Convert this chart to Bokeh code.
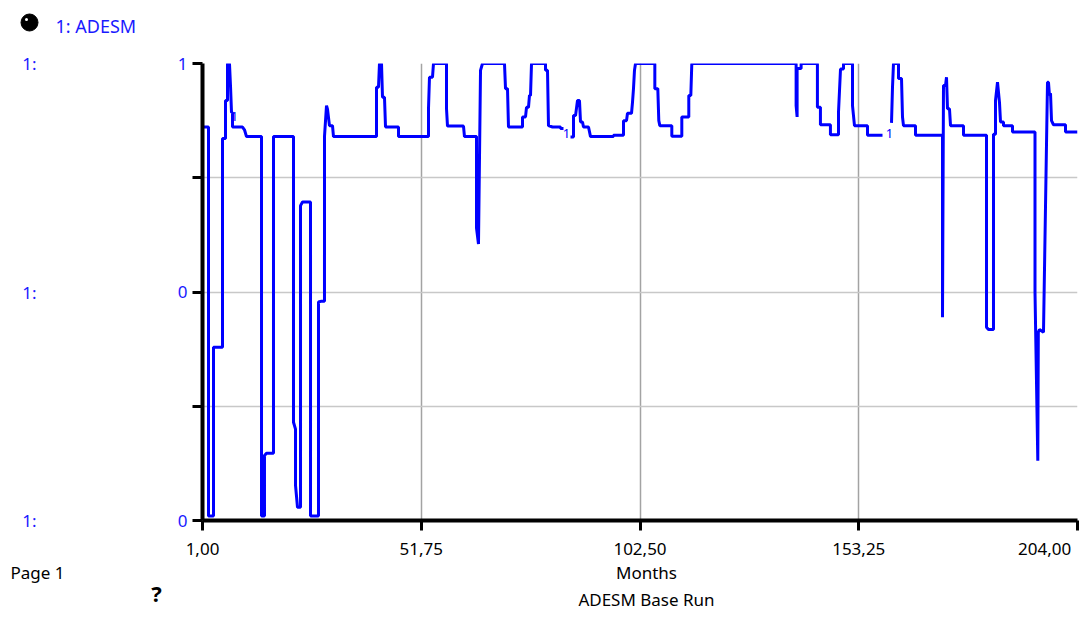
from bokeh.plotting import figure
from bokeh.models import FixedTicker, Range1d, LinearAxis
from bokeh.layouts import column
from bokeh.core.properties import value
from bokeh.embed import file_html
from bokeh.resources import INLINE

NAN = float("nan")

# ---- data ----
months = [1.00, 2.39, 2.39, 3.55, 3.55, 5.64, 5.64, 6.34, 6.34, 6.80, 6.80, 7.26, 7.50, 7.73, 7.96, 7.96,
          10.28, 10.74, 11.21, 14.69, 14.69, 15.38, 15.38, 15.85, 17.47, 17.47, 22.11, 22.11, 22.58, 22.58,
          23.04, 23.74, 23.74, 24.20, 26.06, 26.06, 27.91, 27.91, 28.61, 29.30, 29.30, 29.77, 30.00, 30.46,
          31.16, 31.39, 41.37, 41.37, 41.83, 42.06, 42.53, 42.76, 43.22, 43.46, 46.47, 46.47, 53.43, 53.43,
          53.66, 54.36, 54.59, 57.61, 57.61, 57.84, 61.55, 61.78, 64.57, 64.57, 65.03, 65.50, 65.96, 71.06,
          71.30, 71.76, 71.99, 75.24, 75.24, 75.94, 76.17, 76.63, 76.86, 77.10, 77.33, 80.58, 80.58, 81.04,
          81.27, 82.20, 84.06, 84.06, 84.75, 85.50, 86.38, 87.07, 87.07, 87.54, 88.00, 88.46, 88.70, 89.16,
          89.39, 90.55, 91.02, 96.35, 96.35, 98.67, 98.67, 99.37, 99.60, 100.53, 100.76, 100.99, 101.22,
          101.46, 105.94, 105.94, 106.63, 106.86, 107.10, 109.88, 109.88, 112.20, 112.20, 113.82, 113.82,
          114.29, 114.52, 138.72, 138.72, 138.95, 138.95, 139.88, 139.88, 143.66, 143.66, 144.36, 144.36,
          146.68, 146.68, 148.55, 148.55, 149.02, 149.71, 149.71, 151.80, 151.80, 152.26, 155.28, 155.28,
          158.76, 159.80, 160.85, 161.08, 161.31, 162.47, 162.47, 163.17, 163.40, 163.63, 166.42, 166.42,
          172.68, 172.68, 172.91, 173.38, 173.61, 173.84, 174.30, 174.54, 177.55, 177.55, 182.89, 182.89,
          183.35, 184.51, 184.51, 184.98, 184.98, 185.44, 185.90, 186.14, 186.83, 186.83, 188.92, 188.92,
          194.14, 194.14, 194.79, 194.91, 195.18, 196.11, 197.04, 197.27, 197.50, 197.74, 197.97, 198.43,
          201.22, 201.22, 204.00]
adesm = [0.861, 0.861, 0.01, 0.01, 0.379, 0.379, 0.836, 0.836, 0.919, 0.919, 1.0, 1.0, 0.95, 0.893, 0.893, 0.861,
         0.861, 0.855, 0.840, 0.840, 0.01, 0.01, 0.142, 0.147, 0.147, 0.840, 0.840, 0.215, 0.20, 0.077,
         0.029, 0.029, 0.689, 0.697, 0.697, 0.01, 0.01, 0.478, 0.48, 0.48, 0.840, 0.908, 0.90, 0.864,
         0.864, 0.840, 0.840, 0.948, 0.948, 1.0, 1.0, 0.926, 0.926, 0.861, 0.861, 0.840, 0.840, 0.901,
         0.970, 0.970, 1.0, 1.0, 0.901, 0.863, 0.863, 0.840, 0.840, 0.64, 0.605, 0.985, 1.0, 1.0,
         0.945, 0.945, 0.861, 0.861, 0.883, 0.883, 0.904, 0.904, 0.930, 0.930, 1.0, 1.0, 0.985, 0.985,
         0.864, 0.861, 0.861, 0.858, 0.858, NAN, 0.839, 0.839, 0.886, 0.886, 0.919, 0.919, 0.872, 0.872,
         0.861, 0.861, 0.840, 0.840, 0.843, 0.843, 0.875, 0.875, 0.891, 0.891, 0.915, 0.945, 0.985,
         1.0, 1.0, 0.945, 0.945, 0.875, 0.864, 0.864, 0.841, 0.841, 0.883, 0.883, 0.930,
         0.930, 1.0, 1.0, 0.908, 0.883, 0.989, 0.989, 1.0, 1.0, 0.904, 0.904, 0.866,
         0.866, 0.844, 0.844, 0.893, 0.988, 0.988, 1.0, 1.0, 0.908, 0.864, 0.864, 0.843,
         0.843, NAN, 0.87, 0.948, 1.0, 1.0, 0.967, 0.967, 0.883, 0.864, 0.864, 0.843,
         0.843, 0.445, 0.952, 0.952, 0.970, 0.901, 0.901, 0.864, 0.864, 0.843, 0.843, 0.423,
         0.418, 0.418, 0.845, 0.845, 0.919, 0.959, 0.915, 0.872, 0.872, 0.864, 0.864, 0.850,
         0.850, 0.50, 0.131, 0.412, 0.418, 0.412, 0.959, 0.959, 0.930, 0.935, 0.875, 0.866,
         0.866, 0.850, 0.850]

marker_months = [8.42, 85.45, 160.39]
marker_values = [0.884, 0.847, 0.847]
marker_text = ["1", "1", "1"]

x_ticks = [1.0, 51.75, 102.5, 153.25, 204.0]
x_tick_labels = ["1,00", "51,75", "102,50", "153,25", "204,00"]
y_ticks = [0.0, 0.5, 1.0]
y_minor = [0.25, 0.75]
y_tick_labels = ["0", "0", "1"]
series_tag = "1:"

series_name = "1: ADESM"
x_title = "Months"
run_title = "ADESM Base Run"
page_label = "Page 1"
help_mark = "?"

BLUE = "#0000ff"
TXT_BLUE = "#1a1aff"
FONT = "Noto Sans"
FS = "17px"

# ---- layout geometry (page pixels) ----
W = 1084
HDR_H = 40                       # header strip
LEFT, FRAME_TOP, PW, PH = 202, 63, 875, 457
MAIN_BOTTOM = 562                # main figure ends here
FOOT_H = 63                      # footer strip
MAIN_H = MAIN_BOTTOM - HDR_H


def strip(height, y_top):
    """A bare figure whose frame is the whole strip, in page-pixel units."""
    f = figure(width=W, height=height, x_range=Range1d(0, W), y_range=Range1d(y_top + height, y_top),
               output_backend="svg", toolbar_location=None, title=None,
               x_axis_location=None, y_axis_location=None,
               min_border_left=0, min_border_right=0, min_border_top=0, min_border_bottom=0)
    f.frame_align = False
    f.outline_line_color = None
    f.grid.visible = False
    f.background_fill_color = "white"
    f.border_fill_color = "white"
    return f


def put_text(f, x, y, text, align="left", color="black", size=FS, style="normal"):
    f.text(x=[x], y=[y], text=[text], text_align=align, text_baseline="middle",
           text_color=color, text_font=value(FONT), text_font_size=size, text_font_style=style)


# ---- header ----
hdr = strip(HDR_H, 0)
hdr.scatter(x=[29], y=[22], marker="circle", size=17, fill_color="black", line_color="black")
hdr.scatter(x=[26], y=[19], marker="circle", size=3, fill_color="white", line_color=None)
put_text(hdr, 55, 25, series_name, color=TXT_BLUE, size="18px")

# ---- main chart ----
p = figure(width=W, height=MAIN_H, x_range=Range1d(x_ticks[0], x_ticks[-1]), y_range=Range1d(0, 1),
           output_backend="svg", toolbar_location=None, title=None,
           min_border_left=LEFT, min_border_top=FRAME_TOP - HDR_H, min_border_right=W - LEFT - PW,
           min_border_bottom=MAIN_H - (FRAME_TOP - HDR_H) - PH)
p.frame_align = False
p.outline_line_color = None
p.background_fill_color = "white"
p.border_fill_color = "white"

p.xgrid.ticker = FixedTicker(ticks=x_ticks[1:])
p.xgrid.grid_line_color = "#a3a3a3"
p.xgrid.grid_line_width = 1.5
p.ygrid.ticker = FixedTicker(ticks=[0.25, 0.5, 0.75, 1.0])
p.ygrid.grid_line_color = "#c8c8c8"
p.ygrid.grid_line_width = 1.5

xa = p.xaxis[0]
xa.ticker = FixedTicker(ticks=x_ticks)
overrides = {t: l for t, l in zip(x_ticks, x_tick_labels)}
overrides[x_ticks[-1]] = x_tick_labels[-1] + "\u00a0" * 3
xa.major_label_overrides = overrides
xa.axis_line_width = 4
xa.axis_line_color = "black"
xa.major_tick_line_width = 3
xa.major_tick_out = 10
xa.major_tick_in = 0
xa.minor_tick_out = 0
xa.minor_tick_in = 0
xa.major_label_standoff = 6
xa.major_label_text_font = FONT
xa.major_label_text_font_size = FS
xa.major_label_text_color = "black"

ya = p.yaxis[0]
ya.ticker = FixedTicker(ticks=y_ticks, minor_ticks=y_minor)
ya.major_label_overrides = {t: l for t, l in zip(y_ticks, y_tick_labels)}
ya.axis_line_width = 4
ya.axis_line_color = "black"
ya.major_tick_line_width = 3
ya.major_tick_out = 10
ya.major_tick_in = 0
ya.minor_tick_line_width = 3
ya.minor_tick_out = 10
ya.minor_tick_in = 0
ya.major_label_standoff = 5
ya.major_label_text_font = FONT
ya.major_label_text_font_size = FS
ya.major_label_text_color = TXT_BLUE

tag_axis = LinearAxis(ticker=FixedTicker(ticks=y_ticks),
                      major_label_overrides={t: series_tag for t in y_ticks},
                      axis_line_color=None, major_tick_line_color=None, minor_tick_line_color=None,
                      major_label_standoff=132, major_label_text_font=FONT,
                      major_label_text_font_size=FS, major_label_text_color=TXT_BLUE)
p.add_layout(tag_axis, "left")

p.line(months, adesm, line_color=BLUE, line_width=3)
p.text(x=marker_months, y=marker_values, text=marker_text, text_color=BLUE,
       text_font=value(FONT), text_font_size="13px", text_align="center", text_baseline="middle")

# ---- footer ----
ftr = strip(FOOT_H, MAIN_BOTTOM)
put_text(ftr, 10, 572, page_label)
put_text(ftr, 646, 572, x_title, align="center")
put_text(ftr, 646, 599, run_title, align="center")
put_text(ftr, 156, 592, help_mark, align="center", size="22px", style="bold")

layout = column(hdr, p, ftr, spacing=0)
open("out.html", "w").write(file_html(layout, INLINE))
